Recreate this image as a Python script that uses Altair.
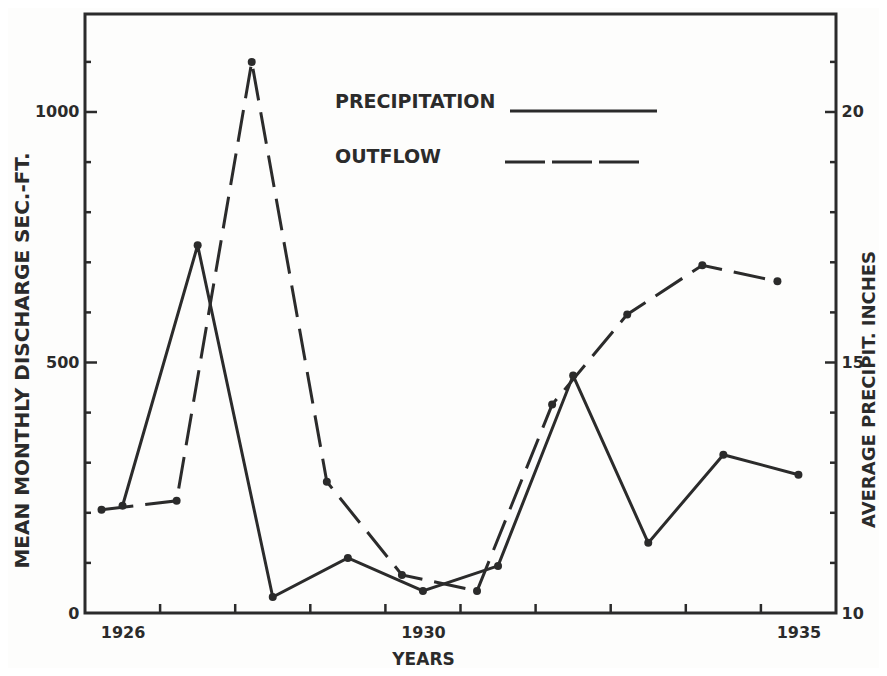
import altair as alt
import pandas as pd

# ---- data ----
years = [1926, 1927, 1928, 1929, 1930, 1931, 1932, 1933, 1934, 1935]
precip_in = [12.14, 17.34, 10.32, 11.10, 10.44, 10.94, 14.74, 11.40, 13.16, 12.76]
outflow_cfs = [206, 224, 1100, 262, 76, 44, 416, 596, 694, 662]

series_names = ["PRECIPITATION", "OUTFLOW"]
x_label_years = [1926, 1930, 1935]
x_tick_years = [1927, 1928, 1929, 1930, 1931, 1932, 1933, 1934, 1935]
left_major = [500, 1000]
left_minor = [100, 200, 300, 400, 600, 700, 800, 900, 1100]
right_major = [15, 20]
right_minor = [11, 12, 13, 14, 16, 17, 18, 19, 21]

# ---- style ----
INK = "#2b2b2b"
FONT = "DejaVu Sans"
W, H = 751, 599

df_p = pd.DataFrame({"year": years, "precip": precip_in})
df_o = pd.DataFrame({"year": years, "outflow": outflow_cfs})

x_scale = alt.Scale(domain=[1926, 1936], nice=False, zero=False)
x_axis = alt.Axis(
    values=[y + 0.5 for y in x_label_years],
    labelExpr="floor(datum.value)",
    ticks=False, tickSize=0, domain=False, grid=False,
    labelFont=FONT, labelFontSize=16, labelFontWeight="bold", labelColor=INK,
    labelPadding=11,
    title="YEARS", titleFont=FONT, titleFontSize=17, titleFontWeight="bold",
    titleColor=INK, titleX=338, titleY=46, titleBaseline="middle",
)


def X(field):
    return alt.X(field, type="quantitative", scale=x_scale, axis=x_axis)


yl_scale = alt.Scale(domain=[0, 1195.6], nice=False, zero=False)
yl_axis = alt.Axis(
    values=[0, 500, 1000], format="d", ticks=False, tickSize=0, domain=False,
    grid=False,
    labelFont=FONT, labelFontSize=16, labelFontWeight="bold", labelColor=INK,
    labelPadding=6,
    title="MEAN MONTHLY DISCHARGE SEC.-FT.", titleFont=FONT, titleFontSize=20,
    titleFontWeight="bold", titleColor=INK, titleAngle=270, titleX=-63,
    titleY=346, titleBaseline="middle", titleAlign="center",
)
yr_scale = alt.Scale(domain=[10, 21.956], nice=False, zero=False)
yr_axis = alt.Axis(
    orient="right", values=[10, 15, 20], ticks=False, tickSize=0, domain=False,
    grid=False,
    labelFont=FONT, labelFontSize=16, labelFontWeight="bold", labelColor=INK,
    labelPadding=5,
    title="AVERAGE PRECIPIT. INCHES", titleFont=FONT, titleFontSize=18,
    titleFontWeight="bold", titleColor=INK, titleAngle=270, titleX=33,
    titleY=375, titleBaseline="middle", titleAlign="center",
)


def YL(field):
    return alt.Y(field, type="quantitative", scale=yl_scale, axis=yl_axis)


def YR(field):
    return alt.Y(field, type="quantitative", scale=yr_scale, axis=yr_axis)


# ---- outflow (left scale) ----
out_base = alt.Chart(df_o).transform_calculate(xpos="datum.year + 0.22")
out_line = out_base.mark_line(color=INK, strokeWidth=3, strokeDash=[32, 12]).encode(
    x=X("xpos"), y=YL("outflow"))
out_pts = out_base.mark_circle(color=INK, size=64, opacity=1).encode(
    x=X("xpos"), y=YL("outflow"))

lmaj = alt.Chart(pd.DataFrame({"v": left_major})).mark_rule(color=INK, strokeWidth=2.5).encode(
    y=YL("v"), x=alt.value(0), x2=alt.value(12))
lmin = alt.Chart(pd.DataFrame({"v": left_minor})).mark_rule(color=INK, strokeWidth=2.5).encode(
    y=YL("v"), x=alt.value(0), x2=alt.value(6))
xt = alt.Chart(pd.DataFrame({"v": x_tick_years})).mark_rule(color=INK, strokeWidth=2.5).encode(
    x=X("v"), y=alt.value(H), y2=alt.value(H - 9))

leg_p_txt = alt.Chart(pd.DataFrame({"t": [series_names[0]]})).mark_text(
    font=FONT, fontSize=19, fontWeight="bold", color=INK, align="left",
    baseline="middle").encode(text="t:N", x=alt.value(250), y=alt.value(88))
leg_o_txt = alt.Chart(pd.DataFrame({"t": [series_names[1]]})).mark_text(
    font=FONT, fontSize=19, fontWeight="bold", color=INK, align="left",
    baseline="middle").encode(text="t:N", x=alt.value(250), y=alt.value(143))
leg_p_line = alt.Chart(pd.DataFrame({"t": [series_names[0]]})).mark_rule(
    color=INK, strokeWidth=3).encode(x=alt.value(425), x2=alt.value(572), y=alt.value(97))
leg_o_line = alt.Chart(pd.DataFrame({"t": [series_names[1]]})).mark_rule(
    color=INK, strokeWidth=3, strokeDash=[40, 7]).encode(
    x=alt.value(420), x2=alt.value(557), y=alt.value(148))

left_layer = alt.layer(out_line, out_pts, lmaj, lmin, xt,
                       leg_p_txt, leg_o_txt, leg_p_line, leg_o_line)

# ---- precipitation (right scale) ----
p_base = alt.Chart(df_p).transform_calculate(xpos="datum.year + 0.5")
p_line = p_base.mark_line(color=INK, strokeWidth=3).encode(x=X("xpos"), y=YR("precip"))
p_pts = p_base.mark_circle(color=INK, size=64, opacity=1).encode(x=X("xpos"), y=YR("precip"))
rmaj = alt.Chart(pd.DataFrame({"v": right_major})).mark_rule(color=INK, strokeWidth=2.5).encode(
    y=YR("v"), x=alt.value(W), x2=alt.value(W - 11))
rmin = alt.Chart(pd.DataFrame({"v": right_minor})).mark_rule(color=INK, strokeWidth=2.5).encode(
    y=YR("v"), x=alt.value(W), x2=alt.value(W - 6))

right_layer = alt.layer(p_line, p_pts, rmaj, rmin)

chart = (
    alt.layer(left_layer, right_layer)
    .resolve_scale(y="independent")
    .properties(width=W, height=H, autosize="none",
                padding={"left": 77, "top": 6, "right": 43, "bottom": 55},
                background="#fdfdfc")
    .configure_view(stroke=INK, strokeWidth=3)
)

chart.save("out.html", embed_options={"renderer": "svg", "actions": False})
